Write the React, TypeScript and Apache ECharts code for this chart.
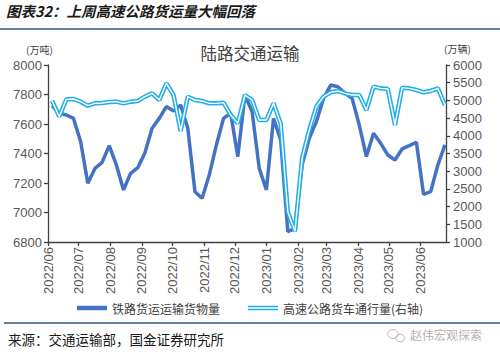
import React, { useEffect, useRef } from 'react';
import * as echarts from 'echarts';

const weeks = [
  '2022-06-05', '2022-06-12', '2022-06-19', '2022-06-26',
  '2022-07-03', '2022-07-10', '2022-07-17', '2022-07-24', '2022-07-31',
  '2022-08-07', '2022-08-14', '2022-08-21', '2022-08-28',
  '2022-09-04', '2022-09-11', '2022-09-18', '2022-09-25',
  '2022-10-02', '2022-10-09', '2022-10-16', '2022-10-23', '2022-10-30',
  '2022-11-06', '2022-11-13', '2022-11-20', '2022-11-27',
  '2022-12-04', '2022-12-11', '2022-12-18', '2022-12-25',
  '2023-01-01', '2023-01-08', '2023-01-15', '2023-01-22', '2023-01-29',
  '2023-02-05', '2023-02-12', '2023-02-19', '2023-02-26',
  '2023-03-05', '2023-03-12', '2023-03-19', '2023-03-26',
  '2023-04-02', '2023-04-09', '2023-04-16', '2023-04-23', '2023-04-30',
  '2023-05-07', '2023-05-14', '2023-05-21', '2023-05-28',
  '2023-06-04', '2023-06-11', '2023-06-18', '2023-06-25',
];

// 铁路货运运输货物量（万吨，左轴）
const railway = [
  7724, 7672, 7661, 7638, 7480, 7198, 7299, 7340, 7453, 7322, 7153, 7266, 7304,
  7405, 7571, 7638, 7718, 7688, 7729, 7571, 7141, 7096, 7254, 7458, 7638, 7672,
  7379, 7797, 7684, 7299, 7153, 7638, 7492, 6870, 6893, 7322, 7503, 7616, 7774,
  7864, 7853, 7808, 7774, 7593, 7379, 7537, 7469, 7390, 7356, 7431, 7453, 7476,
  7123, 7141, 7322, 7458,
];

// 高速公路货车通行量（万辆，右轴）
const highway = [
  4992, 4540, 5030, 5040, 4964, 4851, 4917, 4926, 4955, 4964, 4917, 4964, 4983,
  5105, 5200, 5011, 5482, 5152, 4136, 5105, 5011, 4983, 4917, 4917, 4936, 4588,
  4350, 5152, 5011, 4446, 4446, 4917, 4350, 1850, 1300, 3364, 4164, 4823, 5105,
  5228, 5266, 5200, 5152, 5152, 4729, 5388, 5340, 5322, 4305, 5360, 5340, 5294,
  5228, 5266, 5340, 4870,
];

const monthTicks = [
  '2022/06', '2022/07', '2022/08', '2022/09', '2022/10', '2022/11', '2022/12',
  '2023/01', '2023/02', '2023/03', '2023/04', '2023/05', '2023/06',
];
const xEnd = '2023-06-26';

const leftAxis = { min: 6800, max: 8000, interval: 200 };
const rightAxis = { min: 1000, max: 6000, interval: 500 };

const seriesNames = ['铁路货运运输货物量', '高速公路货车通行量(右轴)'];

const toTs = (s: string) => {
  const [y, m, d] = s.split(/[-/]/).map(Number);
  return new Date(y, m - 1, d || 1).getTime();
};
const monthTs = monthTicks.map(toTs);
const weekTs = weeks.map(toTs);

const NUM_FONT = '"Liberation Sans", Arial, sans-serif';
const CJK_FONT = '"Noto Sans CJK SC", "Noto Sans", sans-serif';

export default function App() {
  const ref = useRef<HTMLDivElement>(null);

  useEffect(() => {
    if (!ref.current) return;
    const chart = echarts.init(ref.current, null, { renderer: 'svg' });
    const axisColor = '#404040';
    const labelColor = '#595959';
    const plain = (v: number) => String(v);

    chart.setOption({
      animation: false,
      backgroundColor: '#ffffff',
      grid: { left: 48, right: 54, top: 65, bottom: 114, containLabel: false },
      xAxis: {
        type: 'value',
        min: monthTs[0],
        max: toTs(xEnd),
        axisLine: { show: true, lineStyle: { color: axisColor, width: 1.3 } },
        axisTick: {
          show: true,
          length: 4,
          customValues: monthTs,
          lineStyle: { color: axisColor, width: 1.3 },
        },
        axisLabel: {
          customValues: monthTs,
          rotate: 90,
          margin: 5,
          fontSize: 13,
          color: labelColor,
          fontFamily: NUM_FONT,
          showMinLabel: true,
          showMaxLabel: true,
          hideOverlap: false,
          formatter: (v: number) => {
            const i = monthTs.indexOf(v);
            return i >= 0 ? monthTicks[i] : '';
          },
        },
        splitLine: { show: false },
      },
      yAxis: [
        {
          type: 'value',
          min: leftAxis.min,
          max: leftAxis.max,
          interval: leftAxis.interval,
          axisLine: { show: true, lineStyle: { color: axisColor, width: 1.3 } },
          axisTick: { show: true, length: 4, lineStyle: { color: axisColor, width: 1.3 } },
          axisLabel: { fontSize: 13, color: labelColor, fontFamily: NUM_FONT, margin: 6, formatter: plain },
          splitLine: { show: false },
        },
        {
          type: 'value',
          min: rightAxis.min,
          max: rightAxis.max,
          interval: rightAxis.interval,
          position: 'right',
          axisLine: { show: true, lineStyle: { color: axisColor, width: 1.3 } },
          axisTick: { show: true, length: 4, lineStyle: { color: axisColor, width: 1.3 } },
          axisLabel: { fontSize: 13, color: labelColor, fontFamily: NUM_FONT, margin: 7, formatter: plain },
          splitLine: { show: false },
        },
      ],
      legend: {
        left: 'center',
        top: 297,
        itemWidth: 30,
        itemHeight: 4.5,
        itemGap: 28,
        textStyle: { fontSize: 12, color: '#404040', fontFamily: CJK_FONT },
        data: [
          { name: seriesNames[0], icon: 'rect' },
          { name: seriesNames[1], icon: 'path://M0,0H60V9H0Z M0,3V6H60V3Z' },
        ],
      },
      series: [
        {
          name: seriesNames[0],
          type: 'line',
          yAxisIndex: 0,
          symbol: 'none',
          color: '#4472C4',
          lineStyle: { color: '#4472C4', width: 3.5 },
          data: weekTs.map((w, i) => [w, railway[i]]),
          z: 2,
        },
        {
          name: seriesNames[1],
          type: 'line',
          yAxisIndex: 1,
          symbol: 'none',
          color: '#22AEE6',
          lineStyle: { color: '#22AEE6', width: 4.5 },
          data: weekTs.map((w, i) => [w, highway[i]]),
          z: 3,
        },
        {
          name: 'hw-inner',
          type: 'line',
          yAxisIndex: 1,
          symbol: 'none',
          silent: true,
          color: '#ffffff',
          lineStyle: { color: '#ffffff', width: 1.4 },
          data: weekTs.map((w, i) => [w, highway[i]]),
          z: 4,
        },
      ],
      graphic: [
        {
          type: 'text',
          left: 6,
          top: 3,
          style: {
            text: '图表32：上周高速公路货运量大幅回落',
            fontSize: 14.5,
            fontWeight: 'bold',
            fontStyle: 'italic',
            fontFamily: CJK_FONT,
            fill: '#1a1a1a',
          },
        },
        {
          type: 'line',
          shape: { x1: 0, y1: 29, x2: 500, y2: 29 },
          style: { stroke: '#2c5a85', lineWidth: 1.5 },
        },
        {
          type: 'text',
          left: 'center',
          top: 45,
          style: {
            text: '陆路交通运输',
            fontSize: 16.5,
            fontFamily: CJK_FONT,
            fill: '#404040',
          },
        },
        {
          type: 'text',
          left: 26,
          top: 44,
          style: { text: '(万吨)', fontSize: 10, fontFamily: CJK_FONT, fill: '#404040' },
        },
        {
          type: 'text',
          left: 444,
          top: 43,
          style: { text: '(万辆)', fontSize: 10, fontFamily: CJK_FONT, fill: '#404040' },
        },
        {
          type: 'line',
          shape: { x1: 4, y1: 323, x2: 500, y2: 323 },
          style: { stroke: '#2c5a85', lineWidth: 1.5 },
        },
        {
          type: 'text',
          left: 8,
          top: 332,
          style: {
            text: '来源：交通运输部，国金证券研究所',
            fontSize: 13.5,
            fontFamily: CJK_FONT,
            fill: '#1a1a1a',
          },
        },
        {
          type: 'ellipse',
          shape: { cx: 393, cy: 334, rx: 5.5, ry: 4.5 },
          style: { fill: 'none', stroke: '#bdbdbd', lineWidth: 1 },
        },
        {
          type: 'ellipse',
          shape: { cx: 400, cy: 338, rx: 4.5, ry: 3.8 },
          style: { fill: 'none', stroke: '#bdbdbd', lineWidth: 1 },
        },
        {
          type: 'text',
          left: 410,
          top: 328,
          style: { text: '赵伟宏观探索', fontSize: 12, fontFamily: CJK_FONT, fill: '#b3b3b3' },
        },
      ],
    });

    return () => chart.dispose();
  }, []);

  return <div ref={ref} style={{ width: 500, height: 356, position: 'absolute', left: 0, top: 0 }} />;
}
